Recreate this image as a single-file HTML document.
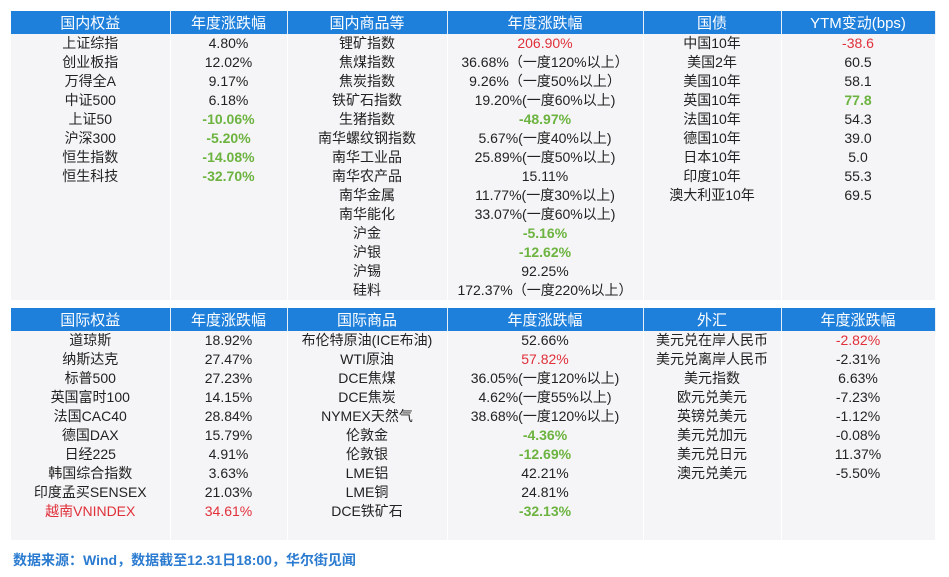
<!DOCTYPE html>
<html><head><meta charset="utf-8">
<style>
body{margin:0;width:949px;height:577px;background:#fff;font-family:"Liberation Sans","Noto Sans CJK SC",sans-serif;position:relative;overflow:hidden}
table{position:absolute;left:11px;border-collapse:collapse;table-layout:fixed;width:924px}
td,th{padding:0;text-align:center;font-size:14px;white-space:nowrap;overflow:hidden;color:#222}
th{background:#1f80dc;color:#fff;font-weight:normal;font-size:15px;height:23px;border-right:1px solid #e8eef6}
td{background:#f5f5f7;height:19px;line-height:19px;border-right:1px solid #fff}
.r{color:#e0303a}.g{color:#6cb33f;font-weight:bold}.rb{color:#e0303a}
#src{position:absolute;left:13px;top:550px;font-size:14px;color:#2b7bd0;font-weight:bold}
</style></head><body>
<table style="top:11px">
<colgroup><col style="width:159px"><col style="width:117px"><col style="width:160px"><col style="width:196px"><col style="width:138px"><col style="width:154px"></colgroup>
<tr><th>国内权益</th><th>年度涨跌幅</th><th>国内商品等</th><th>年度涨跌幅</th><th>国债</th><th>YTM变动(bps)</th></tr>
<tr><td>上证综指</td><td>4.80%</td><td>锂矿指数</td><td class="r">206.90%</td><td>中国10年</td><td class="r">-38.6</td></tr>
<tr><td>创业板指</td><td>12.02%</td><td>焦煤指数</td><td>36.68%（一度120%以上）</td><td>美国2年</td><td>60.5</td></tr>
<tr><td>万得全A</td><td>9.17%</td><td>焦炭指数</td><td>9.26%（一度50%以上）</td><td>美国10年</td><td>58.1</td></tr>
<tr><td>中证500</td><td>6.18%</td><td>铁矿石指数</td><td>19.20%(一度60%以上)</td><td>英国10年</td><td class="g">77.8</td></tr>
<tr><td>上证50</td><td class="g">-10.06%</td><td>生猪指数</td><td class="g">-48.97%</td><td>法国10年</td><td>54.3</td></tr>
<tr><td>沪深300</td><td class="g">-5.20%</td><td>南华螺纹钢指数</td><td>5.67%(一度40%以上)</td><td>德国10年</td><td>39.0</td></tr>
<tr><td>恒生指数</td><td class="g">-14.08%</td><td>南华工业品</td><td>25.89%(一度50%以上)</td><td>日本10年</td><td>5.0</td></tr>
<tr><td>恒生科技</td><td class="g">-32.70%</td><td>南华农产品</td><td>15.11%</td><td>印度10年</td><td>55.3</td></tr>
<tr><td></td><td></td><td>南华金属</td><td>11.77%(一度30%以上)</td><td>澳大利亚10年</td><td>69.5</td></tr>
<tr><td></td><td></td><td>南华能化</td><td>33.07%(一度60%以上)</td><td></td><td></td></tr>
<tr><td></td><td></td><td>沪金</td><td class="g">-5.16%</td><td></td><td></td></tr>
<tr><td></td><td></td><td>沪银</td><td class="g">-12.62%</td><td></td><td></td></tr>
<tr><td></td><td></td><td>沪锡</td><td>92.25%</td><td></td><td></td></tr>
<tr><td></td><td></td><td>硅料</td><td>172.37%（一度220%以上）</td><td></td><td></td></tr>
</table>
<table style="top:308px">
<colgroup><col style="width:159px"><col style="width:117px"><col style="width:160px"><col style="width:196px"><col style="width:138px"><col style="width:154px"></colgroup>
<tr><th>国际权益</th><th>年度涨跌幅</th><th>国际商品</th><th>年度涨跌幅</th><th>外汇</th><th>年度涨跌幅</th></tr>
<tr><td>道琼斯</td><td>18.92%</td><td>布伦特原油(ICE布油)</td><td>52.66%</td><td>美元兑在岸人民币</td><td class="r">-2.82%</td></tr>
<tr><td>纳斯达克</td><td>27.47%</td><td>WTI原油</td><td class="r">57.82%</td><td>美元兑离岸人民币</td><td>-2.31%</td></tr>
<tr><td>标普500</td><td>27.23%</td><td>DCE焦煤</td><td>36.05%(一度120%以上)</td><td>美元指数</td><td>6.63%</td></tr>
<tr><td>英国富时100</td><td>14.15%</td><td>DCE焦炭</td><td>4.62%(一度55%以上)</td><td>欧元兑美元</td><td>-7.23%</td></tr>
<tr><td>法国CAC40</td><td>28.84%</td><td>NYMEX天然气</td><td>38.68%(一度120%以上)</td><td>英镑兑美元</td><td>-1.12%</td></tr>
<tr><td>德国DAX</td><td>15.79%</td><td>伦敦金</td><td class="g">-4.36%</td><td>美元兑加元</td><td>-0.08%</td></tr>
<tr><td>日经225</td><td>4.91%</td><td>伦敦银</td><td class="g">-12.69%</td><td>美元兑日元</td><td>11.37%</td></tr>
<tr><td>韩国综合指数</td><td>3.63%</td><td>LME铝</td><td>42.21%</td><td>澳元兑美元</td><td>-5.50%</td></tr>
<tr><td>印度孟买SENSEX</td><td>21.03%</td><td>LME铜</td><td>24.81%</td><td></td><td></td></tr>
<tr><td class="r">越南VNINDEX</td><td class="r">34.61%</td><td>DCE铁矿石</td><td class="g">-32.13%</td><td></td><td></td></tr>
<tr><td></td><td></td><td></td><td></td><td></td><td></td></tr>
</table>
<div id="src">数据来源：Wind，数据截至12.31日18:00，华尔街见闻</div>
</body></html>
